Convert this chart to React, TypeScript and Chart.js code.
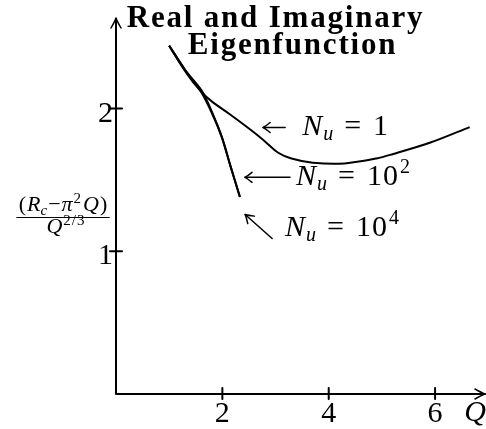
import { useEffect, useRef } from "react";
import { Chart, registerables } from "chart.js";

Chart.register(...registerables);

// Q values and scaled critical Rayleigh numbers for each Nusselt number
const qNu1 = [1.0, 1.3, 1.6, 1.8, 2.14, 2.5, 2.77, 3.05, 3.3, 3.7, 4.3, 4.9, 5.2, 5.9, 6.65];
const rNu1 = [2.44, 2.27, 2.12, 2.05, 1.96, 1.86, 1.78, 1.69, 1.65, 1.62, 1.615, 1.65, 1.68, 1.76, 1.87];

const qNu100 = [1.0, 1.3, 1.61, 1.8, 1.99, 2.15, 2.33];
const rNu100 = [2.44, 2.27, 2.126, 1.98, 1.8, 1.6, 1.38];

const qNu10k = [1.0, 1.25, 1.45, 1.61, 1.8, 1.99, 2.15, 2.33];
const rNu10k = [2.44, 2.29, 2.185, 2.11, 1.97, 1.8, 1.6, 1.38];

const xTicks = [2, 4, 6];
const yTicks = [1, 2];

const titleLines = ["Real and Imaginary", "Eigenfunction"];

// curve labels: N_u = base^exp, anchored at (Q, R) where the text starts
const labelBase = ["1", "10", "10"];
const labelExp = ["", "2", "4"];
const labelQ = [3.5, 3.385, 3.18];
const labelR = [1.811, 1.462, 1.11];

const FONT = '"Liberation Serif", "DejaVu Serif", serif';

type Run = { t: string; it?: boolean; bold?: boolean; s?: number; dy?: number; gap?: number; ls?: number };

function setFont(ctx: CanvasRenderingContext2D, r: Run, base: number) {
  ctx.font = `${r.it ? "italic " : ""}${r.bold ? "bold " : ""}${r.s ?? base}px ${FONT}`;
  (ctx as any).letterSpacing = `${r.ls ?? 0}px`;
}

function runsWidth(ctx: CanvasRenderingContext2D, runs: Run[], base: number) {
  let w = 0;
  for (const r of runs) {
    setFont(ctx, r, base);
    w += (r.gap ?? 0) + ctx.measureText(r.t).width;
  }
  return w;
}

function drawRuns(
  ctx: CanvasRenderingContext2D,
  runs: Run[],
  x: number,
  y: number,
  base: number,
  align: "left" | "center" | "right" = "left"
) {
  const w = runsWidth(ctx, runs, base);
  let cx = align === "center" ? x - w / 2 : align === "right" ? x - w : x;
  ctx.textAlign = "left";
  ctx.textBaseline = "alphabetic";
  for (const r of runs) {
    setFont(ctx, r, base);
    cx += r.gap ?? 0;
    ctx.fillText(r.t, cx, y + (r.dy ?? 0));
    cx += ctx.measureText(r.t).width;
  }
  (ctx as any).letterSpacing = "0px";
  return w;
}

// open arrowhead with slightly curved barbs, pointing along (dx, dy)
function arrowHead(ctx: CanvasRenderingContext2D, x: number, y: number, dx: number, dy: number, len: number, half: number) {
  const n = Math.hypot(dx, dy);
  const ux = dx / n;
  const uy = dy / n;
  const px = -uy;
  const py = ux;
  ctx.beginPath();
  for (const side of [1, -1]) {
    const bx = x - ux * len + px * half * side;
    const by = y - uy * len + py * half * side;
    const cx = x - ux * len * 0.35 + px * half * 0.25 * side;
    const cy = y - uy * len * 0.35 + py * half * 0.25 * side;
    ctx.moveTo(bx, by);
    ctx.quadraticCurveTo(cx, cy, x, y);
  }
  ctx.stroke();
}

const pts = (q: number[], r: number[]) => q.map((v, i) => ({ x: v, y: r[i] }));

const decorations = {
  id: "decorations",
  afterDatasetsDraw(chart: Chart) {
    const ctx = chart.ctx;
    const xs = chart.scales.x;
    const ys = chart.scales.y;
    const x0 = xs.getPixelForValue(0);
    const y0 = ys.getPixelForValue(0);
    const right = chart.chartArea.right;
    const top = chart.chartArea.top;

    ctx.save();
    ctx.strokeStyle = "#000";
    ctx.fillStyle = "#000";
    ctx.lineCap = "round";

    // axes with arrowheads
    ctx.lineWidth = 2;
    ctx.beginPath();
    ctx.moveTo(x0, y0);
    ctx.lineTo(x0, top - 1);
    ctx.moveTo(x0, y0);
    ctx.lineTo(right + 1, y0);
    ctx.stroke();
    ctx.lineWidth = 1.5;
    arrowHead(ctx, x0, top - 2, 0, -1, 10, 5);
    arrowHead(ctx, right + 1, y0, 1, 0, 10, 5);

    // tick marks crossing the axes
    ctx.lineWidth = 2;
    ctx.beginPath();
    for (const v of xTicks) {
      const px = xs.getPixelForValue(v);
      ctx.moveTo(px, y0 - 6);
      ctx.lineTo(px, y0 + 5);
    }
    for (const v of yTicks) {
      const py = ys.getPixelForValue(v);
      ctx.moveTo(x0 - 6, py);
      ctx.lineTo(x0 + 6, py);
    }
    ctx.stroke();

    // tick labels
    for (const v of xTicks) {
      drawRuns(ctx, [{ t: String(v) }], xs.getPixelForValue(v), y0 + 28, 30, "center");
    }
    for (const v of yTicks) {
      drawRuns(ctx, [{ t: String(v) }], x0 - 3, ys.getPixelForValue(v) + 13, 30, "right");
    }

    // axis titles
    drawRuns(ctx, [{ t: "Q", it: true }], right + 2, y0 + 27, 30, "right");
    const fy = ys.getPixelForValue(1.24);
    const fx = x0 - 53;
    const numW = drawRuns(
      ctx,
      [
        { t: "(", ls: 1 },
        { t: "R", it: true, ls: 1 },
        { t: "c", it: true, s: 15, dy: 4, gap: -1 },
        { t: "−", gap: 1 },
        { t: "π", it: true, gap: 1 },
        { t: "2", s: 15, dy: -8, gap: 1 },
        { t: "Q", it: true, gap: 2 },
        { t: ")", gap: 1 },
      ],
      fx,
      fy - 6,
      22,
      "center"
    );
    ctx.lineWidth = 1;
    ctx.beginPath();
    ctx.moveTo(fx - numW / 2 - 2, fy + 0.5);
    ctx.lineTo(fx + numW / 2 + 2, fy + 0.5);
    ctx.stroke();
    drawRuns(
      ctx,
      [
        { t: "Q", it: true },
        { t: "2/3", s: 15, dy: -8, gap: 1, ls: 1 },
      ],
      fx + 3,
      fy + 16,
      22,
      "center"
    );

    // chart title
    const cx = xs.getPixelForValue(3.0);
    drawRuns(ctx, [{ t: titleLines[0], bold: true, ls: 1.8 }], cx, top + 7, 31, "center");
    drawRuns(ctx, [{ t: titleLines[1], bold: true, ls: 1.8 }], cx + 17, top + 34, 31, "center");

    // curve labels with pointer arrows
    ctx.lineWidth = 1.5;
    labelBase.forEach((b, i) => {
      const lx = xs.getPixelForValue(labelQ[i]);
      const ly = ys.getPixelForValue(labelR[i]);
      ctx.beginPath();
      if (i === 0) {
        ctx.moveTo(lx - 17, ly - 8);
        ctx.lineTo(lx - 39, ly - 8);
        ctx.stroke();
        arrowHead(ctx, lx - 39, ly - 8, -1, 0, 7, 5);
      } else if (i === 1) {
        ctx.moveTo(lx - 6, ly - 8);
        ctx.lineTo(lx - 51, ly - 8);
        ctx.stroke();
        arrowHead(ctx, lx - 51, ly - 8, -1, 0, 7, 5);
      } else {
        ctx.moveTo(lx - 13, ly + 3);
        ctx.lineTo(lx - 40, ly - 21);
        ctx.stroke();
        arrowHead(ctx, lx - 40, ly - 21, -27, -24, 8, 5);
      }
      const runs: Run[] = [
        { t: "N", it: true },
        { t: "u", it: true, s: 20, dy: 5, gap: 1 },
        { t: "=", gap: 11, ls: 1 },
        { t: b, gap: 11, ls: 1 },
      ];
      if (labelExp[i]) runs.push({ t: labelExp[i], s: 20, dy: -12, gap: 1 });
      drawRuns(ctx, runs, lx, ly, 30, "left");
    });

    ctx.restore();
  },
};

export default function App() {
  const ref = useRef<HTMLCanvasElement | null>(null);

  useEffect(() => {
    if (!ref.current) return;
    const line = { borderColor: "#000", borderWidth: 2, pointRadius: 0, tension: 0.3, fill: false };
    const chart = new Chart(ref.current, {
      type: "line",
      data: {
        datasets: [
          { label: "Nu = 1", data: pts(qNu1, rNu1), ...line },
          { label: "Nu = 10^2", data: pts(qNu100, rNu100), ...line },
          { label: "Nu = 10^4", data: pts(qNu10k, rNu10k), ...line },
        ],
      },
      options: {
        animation: false,
        responsive: false,
        devicePixelRatio: 1,
        layout: { padding: { left: 116, right: 2, top: 20, bottom: 35 } },
        scales: {
          x: { type: "linear", min: 0, max: 6.92, display: false },
          y: { type: "linear", min: 0, max: 2.62, display: false },
        },
        plugins: { legend: { display: false }, tooltip: { enabled: false }, title: { display: false } },
      },
      plugins: [decorations],
    });
    return () => chart.destroy();
  }, []);

  return (
    <div style={{ position: "absolute", left: 0, top: 0, width: 486, height: 429, background: "#fff" }}>
      <canvas ref={ref} width={486} height={429} style={{ width: 486, height: 429, display: "block" }} />
    </div>
  );
}
